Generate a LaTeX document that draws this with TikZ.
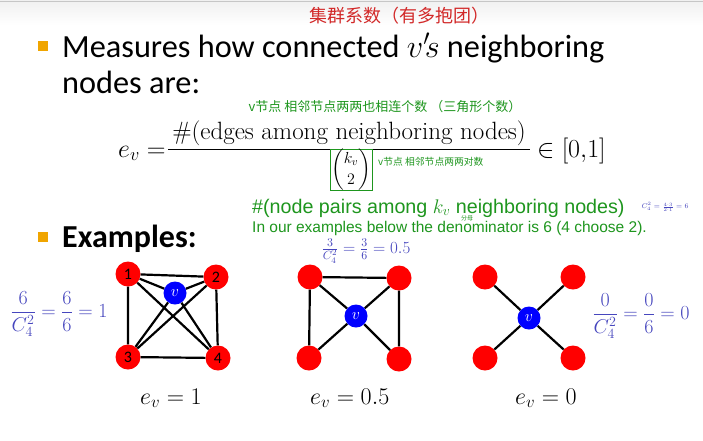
\RequirePackage{fix-cm}
\documentclass[tikz,border=0pt]{standalone}
\usepackage{amsmath}
\usepackage{fontspec}
\newfontfamily\calibri{Carlito}
\newfontfamily\arialf{Liberation Sans}
\newfontfamily\cjk{Noto Sans CJK SC}
\definecolor{bulletor}{RGB}{240,165,0}
\definecolor{gr}{RGB}{30,150,30}
\definecolor{hand}{RGB}{70,70,190}
\definecolor{handred}{RGB}{210,40,40}
\definecolor{nodered}{RGB}{255,0,0}
\definecolor{nodeblue}{RGB}{0,0,255}
\begin{document}
\begin{tikzpicture}[x=1pt,y=-1pt,
 bulletbox/.style={fill=bulletor,minimum size=10pt,inner sep=0},
 big/.style={font=\calibri\fontsize{32.3}{36}\selectfont, inner sep=0, anchor=base west},
 rn/.style={circle,fill=nodered,minimum size=25pt,inner sep=0,font=\calibri\fontsize{16}{16}\selectfont},
 bn/.style={circle,fill=nodeblue,minimum size=23pt,inner sep=0,text=white,font=\fontsize{16}{16}\selectfont},
 edge/.style={line width=2.2pt, black},
 handnote/.style={text=hand, inner sep=0, font=\fontsize{20}{22}\selectfont},
 eqtext/.style={anchor=base west, font=\fontsize{26}{28}\selectfont, inner sep=0}]
\useasboundingbox (0,0) rectangle (703,440);
\fill[white] (0,0) rectangle (703,440);
\fill[top color=gray!12, bottom color=white] (0,0) rectangle (703,25);
\draw[gray!45] (0,1) -- (703,1);

\node[text=handred, font=\cjk\fontsize{18}{18}\selectfont, inner sep=0] (title) at (399,16) {集群系数（有多抱团）};

\node[bulletbox] (bl1) at (43,46) {};
\node[big] (t1) at (62,57) {Measures how connected $v'\!s$ neighboring};
\node[big] (t2) at (62,93) {nodes are:};

% formula
\node[eqtext] (ev) at (118,157) {$e_v =$};
\node[anchor=base, font=\rmfamily\fontsize{25}{28}\selectfont, inner sep=0] (num) at (349,139) {\#(edges among neighboring nodes)};
\coordinate (barL) at (168,149);
\coordinate (barR) at (530,149);
\draw[line width=1pt] (barL) -- (barR);
\node[draw=gr, line width=1pt, inner sep=0pt, font=\fontsize{16}{18}\selectfont, minimum width=42pt, minimum height=37pt] (den) at (351,170) {$\dbinom{k_v}{2}$};
\node[eqtext] (inrange) at (537,157) {$\in[0{,}1]$};

\node[text=gr, font=\cjk\fontsize{13}{14}\selectfont, inner sep=0] (gn1) at (385,107) {v节点 相邻节点两两也相连个数 （三角形个数）};
\node[text=gr, font=\cjk\fontsize{9.8}{11}\selectfont, inner sep=0, anchor=west] (gn2) at (378,162) {v节点 相邻节点两两对数};

\node[anchor=base west, text=gr, font=\arialf\fontsize{19.7}{22}\selectfont, inner sep=0] (g1) at (252,213) {\#(node pairs among $k_v$ neighboring nodes)};
\node[anchor=base west, text=gr, font=\arialf\fontsize{15.5}{17}\selectfont, inner sep=0] (g2) at (252,232) {In our examples below the denominator is 6 (4 choose 2).};
\node[text=hand, font=\fontsize{7}{8}\selectfont, inner sep=0] (cnote) at (665,207) {$C_4^2=\frac{4\cdot 3}{2\cdot 1}=6$};
\node[text=gr, font=\cjk\fontsize{6}{6}\selectfont, inner sep=0] (fm) at (467,218) {分母};

\node[bulletbox] (bl2) at (43,237) {};
\node[big, font=\calibri\bfseries\fontsize{32}{36}\selectfont] (ex) at (62,247) {Examples:};

% graph 1
\node[rn] (a1) at (128,274) {1};
\node[rn] (a2) at (216,277) {2};
\node[rn] (a3) at (128,357) {3};
\node[rn] (a4) at (218,358) {4};
\node[bn] (av) at (175,293) {$v$};
\draw[edge] (a1)--(a2) (a1)--(a3) (a3)--(a4) (a2)--(a4) (a1)--(a4) (a2)--(a3)
  (av)--(a1) (av)--(a2) (av)--(a3) (av)--(a4);

% graph 2
\node[rn] (b1) at (310,277) {};
\node[rn] (b2) at (399,278) {};
\node[rn] (b3) at (309,358) {};
\node[rn] (b4) at (399,359) {};
\node[bn] (bv) at (356,316) {$v$};
\draw[edge] (b1)--(b2) (b1)--(b3) (b2)--(b4) (bv)--(b1) (bv)--(b2) (bv)--(b3) (bv)--(b4);

% graph 3
\node[rn] (c1) at (485,277) {};
\node[rn] (c2) at (573,277) {};
\node[rn] (c3) at (485,358) {};
\node[rn] (c4) at (573,358) {};
\node[bn] (cv) at (529,318) {$v$};
\draw[edge] (cv)--(c1) (cv)--(c2) (cv)--(c3) (cv)--(c4);

% handwritten fractions
\node[handnote] (h1) at (59,314) {$\dfrac{6}{C_4^2}=\dfrac{6}{6}=1$};
\node[handnote, font=\fontsize{17}{18}\selectfont] (h2) at (366,251) {$\frac{3}{C_4^2}=\frac{3}{6}=0.5$};
\node[handnote] (h3) at (641,316) {$\dfrac{0}{C_4^2}=\dfrac{0}{6}=0$};

% bottom labels
\node[eqtext, font=\fontsize{24}{26}\selectfont] (l1) at (140,404) {$e_v = 1$};
\node[eqtext, font=\fontsize{24}{26}\selectfont] (l2) at (310,404) {$e_v = 0.5$};
\node[eqtext, font=\fontsize{24}{26}\selectfont] (l3) at (515,404) {$e_v = 0$};
\end{tikzpicture}
\end{document}
